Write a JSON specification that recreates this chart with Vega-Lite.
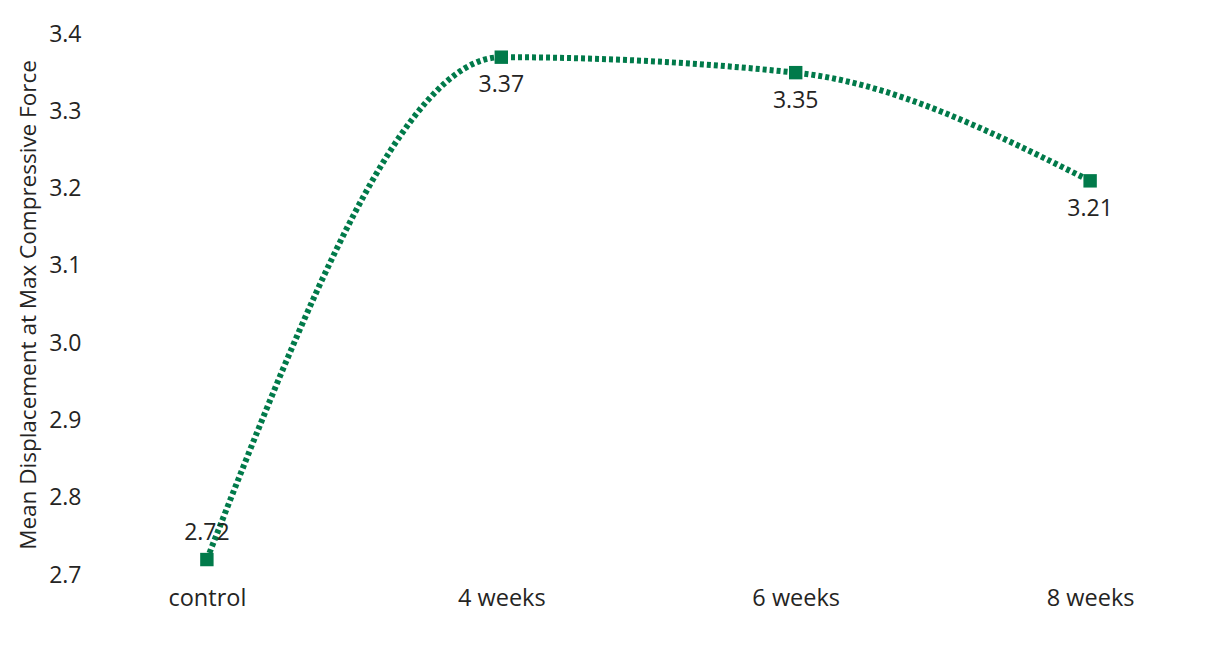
{
  "$schema": "https://vega.github.io/schema/vega-lite/v6.json",
  "autosize": {"type": "none"},
  "padding": {"left": 95, "top": 34, "right": 5, "bottom": 93},
  "width": 1107,
  "height": 541,
  "background": "white",
  "config": {
    "view": {"stroke": null},
    "font": "Open Sans"
  },
  "data": {
    "values": [
      {"group": "control", "value": 2.72},
      {"group": "4 weeks", "value": 3.37},
      {"group": "6 weeks", "value": 3.35},
      {"group": "8 weeks", "value": 3.21}
    ]
  },
  "encoding": {
    "x": {
      "field": "group",
      "type": "ordinal",
      "sort": ["control", "4 weeks", "6 weeks", "8 weeks"],
      "scale": {"type": "point", "padding": 0.38},
      "axis": {
        "title": null,
        "labelAngle": 0,
        "labelFontSize": 23.5,
        "labelColor": "#252423",
        "labelFont": "Open Sans",
        "labelPadding": 11,
        "domain": false,
        "ticks": false,
        "grid": false
      }
    },
    "y": {
      "field": "value",
      "type": "quantitative",
      "scale": {"domain": [2.7, 3.4], "nice": false, "zero": false},
      "axis": {
        "title": "Mean Displacement at Max Compressive Force",
        "titleFontSize": 22.5,
        "titleFontWeight": "normal",
        "titleColor": "#252423",
        "titleFont": "Open Sans",
        "titlePadding": 8,
        "values": [2.7, 2.8, 2.9, 3.0, 3.1, 3.2, 3.3, 3.4],
        "format": ".1f",
        "labelFontSize": 23,
        "labelColor": "#252423",
        "labelPadding": 14,
        "domain": false,
        "ticks": false,
        "grid": false
      }
    }
  },
  "layer": [
    {
      "mark": {
        "type": "line",
        "interpolate": "monotone",
        "color": "#017A4A",
        "strokeWidth": 6,
        "strokeDash": [4, 3]
      }
    },
    {
      "mark": {"type": "point", "shape": "square", "filled": true, "size": 180, "color": "#017A4A", "opacity": 1}
    },
    {
      "transform": [{"filter": "datum.group === 'control'"}],
      "mark": {"type": "text", "fontSize": 23, "color": "#252423", "dy": -27, "font": "Open Sans"},
      "encoding": {"text": {"field": "value", "type": "quantitative", "format": ".2f"}}
    },
    {
      "transform": [{"filter": "datum.group !== 'control'"}],
      "mark": {"type": "text", "fontSize": 23, "color": "#252423", "dy": 28, "font": "Open Sans"},
      "encoding": {"text": {"field": "value", "type": "quantitative", "format": ".2f"}}
    }
  ]
}
